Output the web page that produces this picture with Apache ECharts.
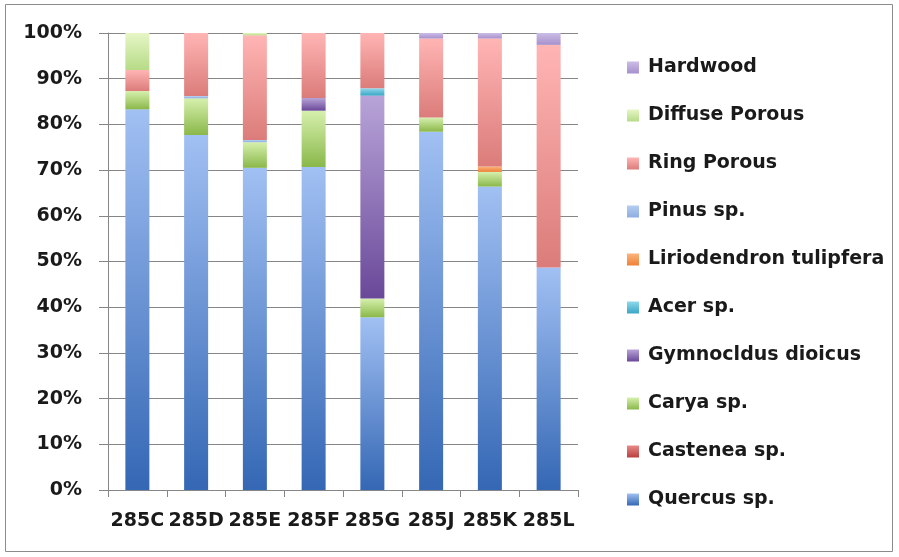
<!DOCTYPE html>
<html><head><meta charset="utf-8">
<script src="https://cdn.jsdelivr.net/npm/echarts@6/dist/echarts.min.js"></script>
<style>html,body{margin:0;padding:0;background:#fff}#c{width:899px;height:557px}</style>
</head><body><div id="c"></div>
<script>
const categories = ['285C','285D','285E','285F','285G','285J','285K','285L'];
const quercus   = [83.3, 77.7, 70.5, 70.7, 37.8, 78.4, 66.4, 48.7];
const castenea  = [0, 0, 0, 0, 0, 0, 0, 0];
const carya     = [4.0, 8.0, 5.6, 12.3, 4.1, 3.1, 3.2, 0];
const gymno     = [0, 0, 0, 2.8, 44.4, 0, 0, 0];
const acer      = [0, 0, 0, 0, 1.6, 0, 0, 0];
const lirio     = [0, 0, 0, 0, 0, 0, 1.2, 0];
const pinus     = [0, 0.5, 0.5, 0, 0, 0, 0, 0];
const ring      = [4.6, 13.8, 22.9, 14.2, 12.1, 17.3, 28.0, 48.7];
const diffuse   = [8.1, 0, 0.5, 0, 0, 0, 0, 0];
const hardwood  = [0, 0, 0, 0, 0, 1.2, 1.2, 2.6];
const yTicks = ['0%','10%','20%','30%','40%','50%','60%','70%','80%','90%','100%'];

const seriesDefs = [
  ['Quercus sp.', quercus, '#a1c0f3', '#3467b4'],
  ['Castenea sp.', castenea, '#e88a88', '#b8403d'],
  ['Carya sp.', carya, '#d6f0ad', '#8ab84a'],
  ['Gymnocldus dioicus', gymno, '#b8a4d8', '#6a4899'],
  ['Acer sp.', acer, '#8fd8ec', '#3aa6c4'],
  ['Liriodendron tulipfera', lirio, '#fbb57c', '#ee8038'],
  ['Pinus sp.', pinus, '#b5cdf0', '#8eaee0'],
  ['Ring Porous', ring, '#ffb5b4', '#db7c7a'],
  ['Diffuse Porous', diffuse, '#e6f6c6', '#b6db86'],
  ['Hardwood', hardwood, '#cbbde6', '#a690cc']
];

const chart = echarts.init(document.getElementById('c'));
const fontFam = '"DejaVu Sans", sans-serif';
chart.setOption({
  animation: false,
  backgroundColor: '#fff',
  graphic: [{type:'rect', shape:{x:5.5,y:4.5,width:887,height:547}, style:{fill:'none', stroke:'#8c8c8c', lineWidth:1}}],
  grid: {left:108, right:321, top:33, bottom:67},
  legend: {
    orient:'vertical', left:622, top:53, itemGap:29, itemWidth:12, itemHeight:12, icon:'rect',
    data: seriesDefs.map(s=>s[0]).reverse(),
    textStyle:{fontFamily:fontFam, fontSize:19, fontWeight:'bold', color:'#1a1a1a', padding:[0,0,0,4]}
  },
  xAxis: {
    type:'category', data:categories,
    axisLine:{lineStyle:{color:'#868686'}},
    axisTick:{show:true, length:7, lineStyle:{color:'#868686'}},
    axisLabel:{interval:0, fontFamily:fontFam, fontSize:19, fontWeight:'bold', color:'#1a1a1a', margin:22}
  },
  yAxis: {
    type:'value', min:0, max:100, interval:10,
    axisLine:{show:true, lineStyle:{color:'#868686'}},
    axisTick:{show:true, length:9, lineStyle:{color:'#868686'}},
    splitLine:{lineStyle:{color:'#868686'}},
    axisLabel:{fontFamily:fontFam, fontSize:19, fontWeight:'bold', color:'#1a1a1a', margin:26,
      formatter:(v)=>yTicks[Math.round(v/10)]}
  },
  series: seriesDefs.map(s=>({
    name:s[0], type:'bar', stack:'t', data:s[1], barWidth:24,
    itemStyle:{color:new echarts.graphic.LinearGradient(0,0,0,1,[{offset:0,color:s[2]},{offset:1,color:s[3]}])}
  }))
});
</script></body></html>
